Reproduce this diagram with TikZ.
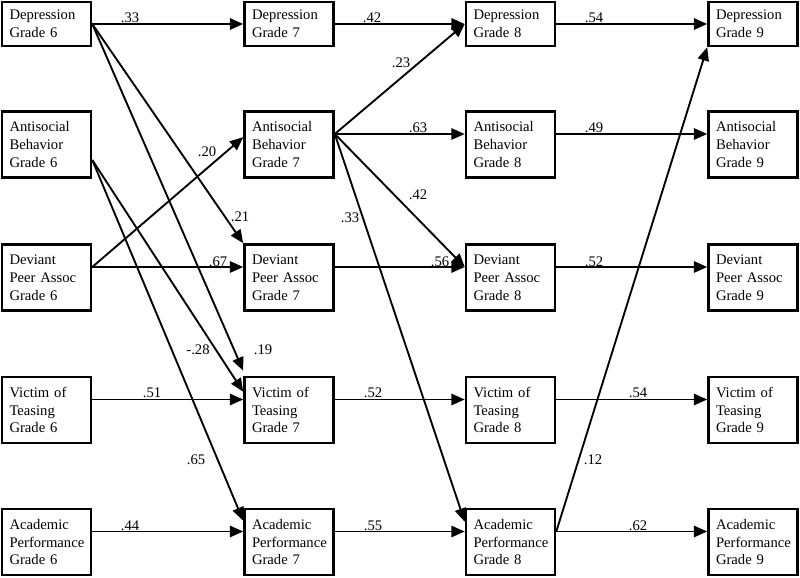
\documentclass[tikz,border=0pt]{standalone}
\usepackage{fontspec}
\setmainfont{Liberation Serif}
\usetikzlibrary{arrows.meta}

\begin{document}
\begin{tikzpicture}[x=0.3mm, y=-0.3mm,
            box/.style={rectangle, draw=black, line width=2.2pt, minimum width=26.7mm, minimum height=19.8mm,
                text width=22.2mm, inner xsep=2.25mm, inner ysep=0.5mm, align=left, font=\fontsize{12.5}{15.2}\selectfont},
            twoline/.style={minimum height=13.2mm},
            arr/.style={-{Triangle[length=4mm, width=3.4mm]}, line width=1.6pt},
            lbl/.style={inner sep=0pt, font=\fontsize{12.5}{14}\selectfont}]
            \useasboundingbox (0,0) rectangle (800,578);
            \node[box, twoline] (dep6) at (46.5,24)  {Depression\\Grade 6};
            \node[box] (ant6) at (46.5,144.5) {Antisocial\\Behavior\\Grade 6};
            \node[box] (dev6) at (46.5,277.5) {Deviant\\Peer Assoc\\Grade 6};
            \node[box] (vic6) at (46.5,410)   {Victim of\\Teasing\\Grade 6};
            \node[box] (aca6) at (46.5,542)   {Academic\\Performance\\Grade 6};
            \node[box, twoline] (dep7) at (289,24)  {Depression\\Grade 7};
            \node[box] (ant7) at (289,144.5) {Antisocial\\Behavior\\Grade 7};
            \node[box] (dev7) at (289,277.5) {Deviant\\Peer Assoc\\Grade 7};
            \node[box] (vic7) at (289,410)   {Victim of\\Teasing\\Grade 7};
            \node[box] (aca7) at (289,542)   {Academic\\Performance\\Grade 7};
            \node[box, twoline] (dep8) at (510.5,24)  {Depression\\Grade 8};
            \node[box] (ant8) at (510.5,144.5) {Antisocial\\Behavior\\Grade 8};
            \node[box] (dev8) at (510.5,277.5) {Deviant\\Peer Assoc\\Grade 8};
            \node[box] (vic8) at (510.5,410)   {Victim of\\Teasing\\Grade 8};
            \node[box] (aca8) at (510.5,542)   {Academic\\Performance\\Grade 8};
            \node[box, twoline] (dep9) at (753,24)  {Depression\\Grade 9};
            \node[box] (ant9) at (753,144.5) {Antisocial\\Behavior\\Grade 9};
            \node[box] (dev9) at (753,277.5) {Deviant\\Peer Assoc\\Grade 9};
            \node[box] (vic9) at (753,410)   {Victim of\\Teasing\\Grade 9};
            \node[box] (aca9) at (753,542)   {Academic\\Performance\\Grade 9};
            % stability paths
            \foreach \a/\b/\s in {dep6/dep7/0mm, dep7/dep8/0mm, dep8/dep9/0mm, ant7/ant8/3.15mm, ant8/ant9/3.15mm,
                dev6/dev7/3.15mm, dev7/dev8/3.15mm, dev8/dev9/3.15mm, vic6/vic7/3.15mm, vic7/vic8/3.15mm,
                vic8/vic9/3.15mm, aca6/aca7/3.15mm, aca7/aca8/3.15mm, aca8/aca9/3.15mm}
                { \draw[arr] ([yshift=\s]\a.east) -- ([yshift=\s]\b.west); }
            % cross-lagged paths
            \draw[arr] (dep6.east) -- (dev7.north west);
            \draw[arr] (dep6.east) -- ([yshift=1.5mm]vic7.north west);
            \draw[arr] ([yshift=-4.65mm]ant6.east) -- ([yshift=-4.8mm]vic7.north west);
            \draw[arr] ([yshift=-4.65mm]ant6.east) -- ([yshift=-3.9mm]aca7.north west);
            \draw[arr] ([yshift=3.15mm]dev6.east) -- ([yshift=2.2mm]ant7.west);
            \draw[arr] ([yshift=3.15mm]ant7.east) -- (dep8.west);
            \draw[arr] ([yshift=3.15mm]ant7.east) -- ([yshift=3.15mm]dev8.west);
            \draw[arr] ([yshift=3.15mm]ant7.east) -- ([yshift=-4.2mm]aca8.north west);
            \draw[arr] ([yshift=3.15mm]aca8.east) -- (dep9.south west);
            % coefficients
            \foreach \n/\x/\y/\t in {l1/130/18/.33, l2/372/18/.42, l3/594/18/.54, l4/401/63/.23,
                l5/418/128/.63, l6/594/128/.49, l7/207/152/.20, l8/418/195/.42, l9/240/217/.21,
                l10/350/218/.33, l11/218/262/.67, l12/440/262/.56, l13/594/262/.52, l14/263/350/.19,
                l15/198/350/-.28, l16/152/393/.51, l17/373/393/.52, l18/638/393/.54, l19/196/460/.65,
                l20/593/460/.12, l21/130/526/.44, l22/373/526/.55, l23/638/526/.62}
                { \node[lbl] (\n) at (\x,\y) {\t}; }
        \end{tikzpicture}
\end{document}
